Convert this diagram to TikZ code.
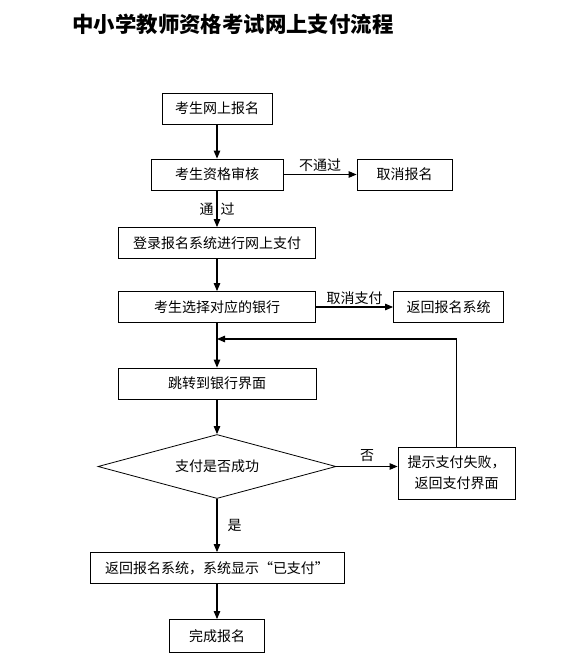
\documentclass[tikz,border=0pt]{standalone}
\usepackage{fontspec}
\setmainfont{Noto Sans CJK SC}
\usetikzlibrary{positioning}
\usetikzlibrary{arrows.meta}
\usetikzlibrary{shapes.geometric}

\begin{document}
\begin{tikzpicture}[x=1pt,y=1pt,node distance=66pt,font=\fontsize{14pt}{21pt}\selectfont,
  >={Triangle[length=8pt,width=6.5pt]},
  every edge/.style={draw,line width=1.1pt},
  stage/.style={draw,line width=0.8pt,minimum height=31pt,inner sep=0pt},
  check/.style={draw,line width=0.8pt,diamond,aspect=3.7,minimum width=238pt,minimum height=64pt,inner sep=0pt},
  note/.style={inner sep=2pt}]
\useasboundingbox (0,0) rectangle (566,-670);
\node[anchor=west,font=\fontsize{21.4pt}{26pt}\selectfont\bfseries] (title) at (69,-24) {中小学教师资格考试网上支付流程};
\node[stage,minimum width=110pt] (a) at (217,-108.5) {考生网上报名};
\node[stage,minimum width=132pt] (b) [below of=a] {考生资格审核};
\node[stage,minimum width=95pt] (c) [right of=b,node distance=187.5pt] {取消报名};
\node[stage,minimum width=197pt] (d) [below of=b,node distance=68.5pt] {登录报名系统进行网上支付};
\node[stage,minimum width=197pt] (e) [below of=d,node distance=64pt] {考生选择对应的银行};
\node[stage,minimum width=110pt] (f) [right of=e,node distance=231.5pt] {返回报名系统};
\node[coordinate] (m) [below of=e,node distance=32pt] {};
\node[stage,minimum width=198pt] (g) [below of=e,node distance=76.5pt] {跳转到银行界面};
\node[check] (h) [below of=g,node distance=83pt] {支付是否成功};
\node[stage,minimum width=117pt,minimum height=52pt,align=center] (i) [right of=h,node distance=239.5pt,yshift=-6.5pt] {提示支付失败，\\返回支付界面};
\node[stage,minimum width=254pt] (j) [below of=h,node distance=101.5pt] {返回报名系统，系统显示“已支付”};
\node[stage,minimum width=95pt,minimum height=33pt] (k) [below of=j,node distance=68pt] {完成报名};
\path[->]
    (a) edge (b)
    (b) edge node[note,above] {不通过} (c)
    (b) edge node[note,midway] {通\hspace{7pt}过} (d)
    (d) edge (e)
    (e) edge node[note,above] {取消支付} (f)
    (e) edge (g)
    (g) edge (h)
    (h) edge node[note,above=2pt] {否} (i.west |- h)
    (h) edge node[note,right=8pt] {是} (j)
    (j) edge (k)
;
\draw[->,line width=1.1pt] (i.north) |- (m);
\end{tikzpicture}
\end{document}
